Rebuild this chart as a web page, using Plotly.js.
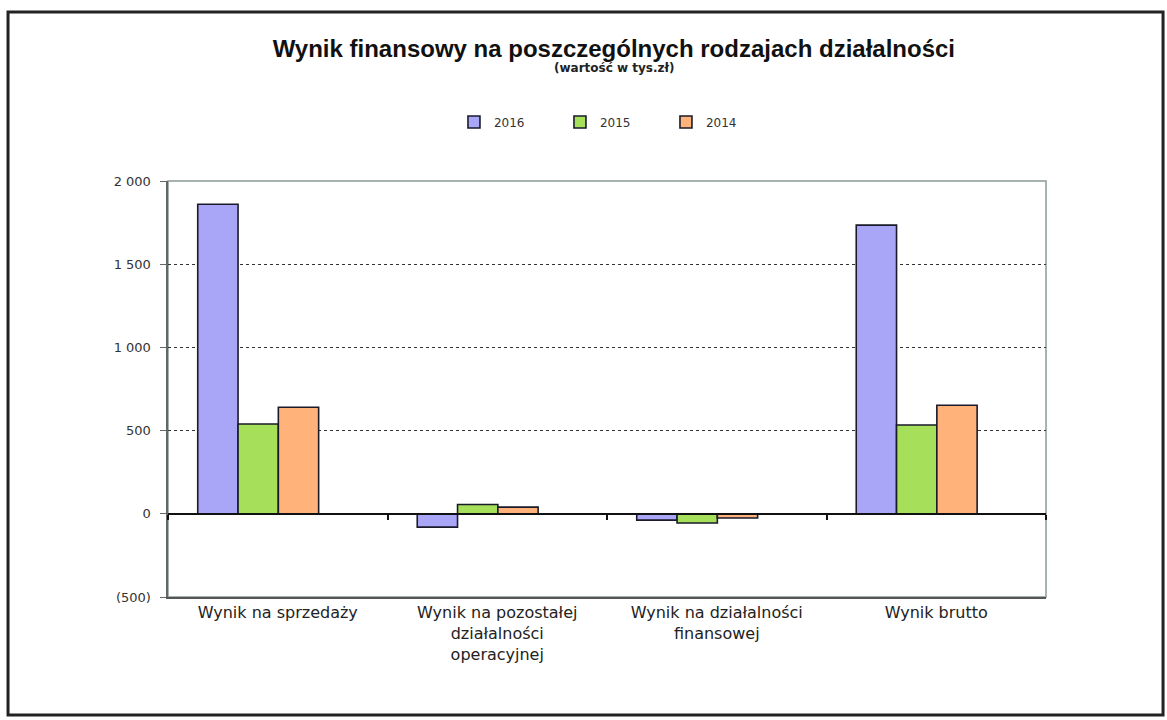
<!DOCTYPE html>
<html>
<head>
<meta charset="utf-8">
<script src="https://cdn.plot.ly/plotly-3.0.1.min.js"></script>
<style>html,body{margin:0;padding:0;background:#fff;}</style>
</head>
<body>
<div id="chart" style="width:1167px;height:720px;"></div>
<script>
const categories = ["Wynik na sprzedaży", "Wynik na pozostałej<br>działalności<br>operacyjnej", "Wynik na działalności<br>finansowej", "Wynik brutto"];
const series2016 = [1860, -80, -38, 1735];
const series2015 = [540, 56, -55, 534];
const series2014 = [640, 40, -25, 652];
const yTickVals = [-500, 0, 500, 1000, 1500, 2000];
const yTickText = ["(500)", "0", "500", "1 000", "1 500", "2 000"];
const boundaryTicks = [-0.5, 0.5, 1.5, 2.5, 3.5];

const barW = 0.1836;
const barLine = {color: "#1a1a2a", width: 1.6};
const traces = [
  {type: "bar", name: "2016", x: categories, y: series2016, width: barW, offset: -0.3645, marker: {color: "#A9A6F8", line: barLine}},
  {type: "bar", name: "2015", x: categories, y: series2015, width: barW, offset: -0.1809, marker: {color: "#A6E05A", line: barLine}},
  {type: "bar", name: "2014", x: categories, y: series2014, width: barW, offset: 0.0027, marker: {color: "#FFB27A", line: barLine}},
  {type: "scatter", x: [], y: [], xaxis: "x2", showlegend: false, hoverinfo: "skip"}
];

const layout = {
  width: 1167, height: 720,
  margin: {l: 168, r: 121, t: 181, b: 123},
  paper_bgcolor: "#ffffff", plot_bgcolor: "#ffffff",
  font: {family: "DejaVu Sans, Liberation Sans, Arial, sans-serif", color: "#222"},
  title: {text: "<b>Wynik finansowy na poszczególnych rodzajach działalności</b>",
          font: {family: "Liberation Sans, Arial, sans-serif", size: 24, color: "#111"},
          x: 0.526, xanchor: "center", y: 0.933, yanchor: "middle"},
  barmode: "overlay",
  showlegend: true,
  legend: {orientation: "h", x: 0.3257, xanchor: "left", y: 1.142, yanchor: "middle",
           font: {size: 12, color: "#333"}, entrywidth: 61, itemwidth: 30, bgcolor: "rgba(0,0,0,0)"},
  xaxis: {type: "category", range: [-0.5, 3.5], showline: true, linecolor: "#555", linewidth: 2, ticks: "",
          tickfont: {size: 16, color: "#222"}, showgrid: false, zeroline: false, fixedrange: true},
  xaxis2: {overlaying: "x", anchor: "free", position: 0.2, range: [-0.5, 3.5], tickvals: boundaryTicks,
           showticklabels: false, ticks: "outside", ticklen: 5, tickcolor: "#111", tickwidth: 2,
           showline: true, linecolor: "#111", linewidth: 2, showgrid: false, zeroline: false},
  yaxis: {range: [-500, 2000], tickvals: yTickVals, ticktext: yTickText, tickfont: {size: 13, color: "#333"},
          showgrid: true, gridcolor: "#333", griddash: "dot", gridwidth: 1,
          zeroline: false, showline: true, linecolor: "#666", linewidth: 2.5,
          ticks: "outside", ticklen: 6, tickcolor: "#666", ticklabelstandoff: 6},
  annotations: [
    {text: "<b>(wartość w tys.zł)</b>", xref: "paper", yref: "paper", x: 0.508, y: 1.2716,
     showarrow: false, font: {size: 12, color: "#222"}, xanchor: "center", yanchor: "middle"}
  ],
  shapes: [
    {type: "rect", xref: "paper", yref: "paper", x0: 0, x1: 1, y0: 0, y1: 1,
     line: {color: "#8a9a92", width: 1.5}, layer: "below"},
    {type: "rect", xref: "paper", yref: "paper", x0: -0.1822, x1: 1.1333, y0: -0.2837, y1: 1.406,
     line: {color: "#222", width: 3}, layer: "below"}
  ]
};

Plotly.newPlot("chart", traces, layout, {displayModeBar: false, staticPlot: true});
</script>
</body>
</html>
